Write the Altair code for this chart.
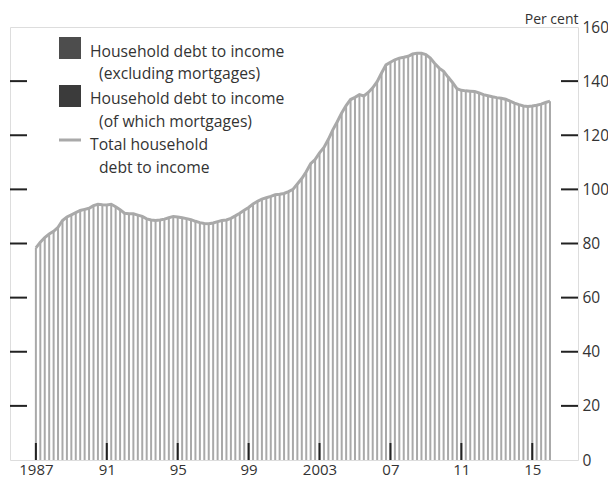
import altair as alt
import pandas as pd

# ---- data -------------------------------------------------------------
start_year = 1987
# Total household debt to income (per cent), quarterly 1987 Q1 - 2016 Q1
total_debt = [
    78.4, 80.5, 82.2, 83.5,      # 1987
    84.5, 86.0, 88.5, 89.8,      # 1988
    90.6, 91.4, 92.2, 92.6,      # 1989
    93.0, 94.0, 94.5, 94.3,      # 1990
    94.2, 94.5, 93.6, 92.5,      # 1991
    91.2, 91.0, 91.0, 90.5,      # 1992
    90.0, 89.1, 88.7, 88.5,      # 1993
    88.7, 89.0, 89.5, 90.0,      # 1994
    89.8, 89.5, 89.2, 88.8,      # 1995
    88.2, 87.7, 87.4, 87.3,      # 1996
    87.6, 88.1, 88.5, 88.7,      # 1997
    89.3, 90.2, 91.2, 92.3,      # 1998
    93.3, 94.6, 95.6, 96.4,      # 1999
    96.9, 97.4, 98.0, 98.2,      # 2000
    98.5, 99.2, 100.0, 102.0,    # 2001
    104.0, 106.5, 109.5, 111.0,  # 2002
    113.5, 115.5, 118.5, 122.0,  # 2003
    125.0, 128.2, 131.0, 133.2,  # 2004
    134.0, 135.0, 134.5, 135.8,  # 2005
    137.5, 139.8, 143.0, 146.0,  # 2006
    147.0, 147.9, 148.5, 148.8,  # 2007
    149.2, 150.0, 150.3, 150.3,  # 2008
    149.8, 148.5, 146.5, 144.8,  # 2009
    143.6, 141.5, 139.5, 137.2,  # 2010
    136.6, 136.4, 136.3, 136.2,  # 2011
    135.6, 135.0, 134.6, 134.2,  # 2012
    133.9, 133.7, 133.3, 132.6,  # 2013
    131.9, 131.3, 130.8, 130.6,  # 2014
    130.8, 131.1, 131.5, 132.1,  # 2015
    132.6,                       # 2016 Q1
]
quarters = [start_year + i / 4 for i in range(len(total_debt))]

x_tick_years = [1987, 1991, 1995, 1999, 2003, 2007, 2011, 2015]
y_tick_values = [0, 20, 40, 60, 80, 100, 120, 140, 160]
y_inner_ticks = [20, 40, 60, 80, 100, 120, 140]

legend_bar_labels = ["Household debt to income", "Household debt to income"]
legend_bar_sub = ["(excluding mortgages)", "(of which mortgages)"]
legend_bar_colors = ["#4d4d4d", "#3b3b3b"]
legend_line_label = ["Total household", "debt to income"]

df = pd.DataFrame({"t": quarters, "v": total_debt})
xt = pd.DataFrame({"t": x_tick_years})
yt = pd.DataFrame({"v": y_inner_ticks})

# ---- styling -----------------------------------------------------------
W, H = 568, 433
FONT = "Open Sans"
TXT = "#333333"
GREY = "#a9a9a9"

x_axis = alt.Axis(
    values=x_tick_years, ticks=False, domain=False, grid=False,
    labelExpr="(datum.value == 1987 || datum.value == 2003) ? '' + datum.value : slice('' + datum.value, 2)",
    labelFontSize=15, labelFont=FONT, labelColor=TXT, labelPadding=2, title=None,
)
y_axis = alt.Axis(
    orient="right", values=y_tick_values, ticks=False, domain=False, grid=False,
    labelFontSize=15.5, labelFont=FONT, labelColor=TXT, labelPadding=4,
    labelBaseline="middle",
    title="Per cent", titleAngle=0, titleAlign="right", titleBaseline="alphabetic",
    titleX=0, titleY=-3.5, titleFont=FONT, titleFontSize=14, titleFontWeight="normal",
    titleColor=TXT,
)
x_scale = alt.Scale(domain=[1985.54, 2017.58], nice=False, zero=False)
y_scale = alt.Scale(domain=[0, 160], nice=False)

def X():
    return alt.X("t:Q", scale=x_scale, axis=x_axis)

def Y():
    return alt.Y("v:Q", scale=y_scale, axis=y_axis)

bars = alt.Chart(df).mark_rule(color=GREY, strokeWidth=2).encode(
    x=X(), y=Y(), y2=alt.datum(0)
)
line = alt.Chart(df).mark_line(color=GREY, strokeWidth=3).encode(x=X(), y=Y())

xticks = alt.Chart(xt).mark_rule(color="#222222", strokeWidth=2).encode(
    x=X(), y=alt.value(H), y2=alt.value(H - 17)
)
yticks_l = alt.Chart(yt).mark_rule(color="#222222", strokeWidth=2).encode(
    y=Y(), x=alt.value(0), x2=alt.value(17)
)
yticks_r = alt.Chart(yt).mark_rule(color="#222222", strokeWidth=2).encode(
    y=Y(), x=alt.value(W - 17), x2=alt.value(W)
)

# ---- legend ------------------------------------------------------------
leg_layers = []
sq_y = [21, 69]
for i in range(2):
    leg_layers.append(
        alt.Chart(df).mark_square(size=484, color=legend_bar_colors[i], opacity=1).encode(
            x=alt.value(60), y=alt.value(sq_y[i])
        ).transform_filter("datum.t == 1987")
    )
leg_layers.append(
    alt.Chart(df).mark_rule(color=GREY, strokeWidth=3).encode(
        x=alt.value(49), x2=alt.value(71), y=alt.value(113)
    ).transform_filter("datum.t == 1987")
)
text_items = [
    (legend_bar_labels[0], 80, 29.5),
    (legend_bar_sub[0], 89, 52),
    (legend_bar_labels[1], 80, 77),
    (legend_bar_sub[1], 89, 99.5),
    (legend_line_label[0], 80, 122.5),
    (legend_line_label[1], 89, 145.5),
]
for txt, tx, ty in text_items:
    leg_layers.append(
        alt.Chart(df).mark_text(
            text=txt, align="left", baseline="alphabetic", font=FONT,
            fontSize=15.7, color=TXT,
        ).encode(x=alt.value(tx), y=alt.value(ty)).transform_filter("datum.t == 1987")
    )

chart = alt.layer(bars, line, xticks, yticks_l, yticks_r, *leg_layers).properties(
    width=W, height=H,
    autosize=alt.AutoSizeParams(type="none"),
    padding={"left": 2, "top": 19, "right": 30, "bottom": 23},
).configure_view(stroke="#222222", strokeWidth=1.6).configure(background="white")

chart.save("out.html", embed_options={"renderer": "svg", "actions": False})
